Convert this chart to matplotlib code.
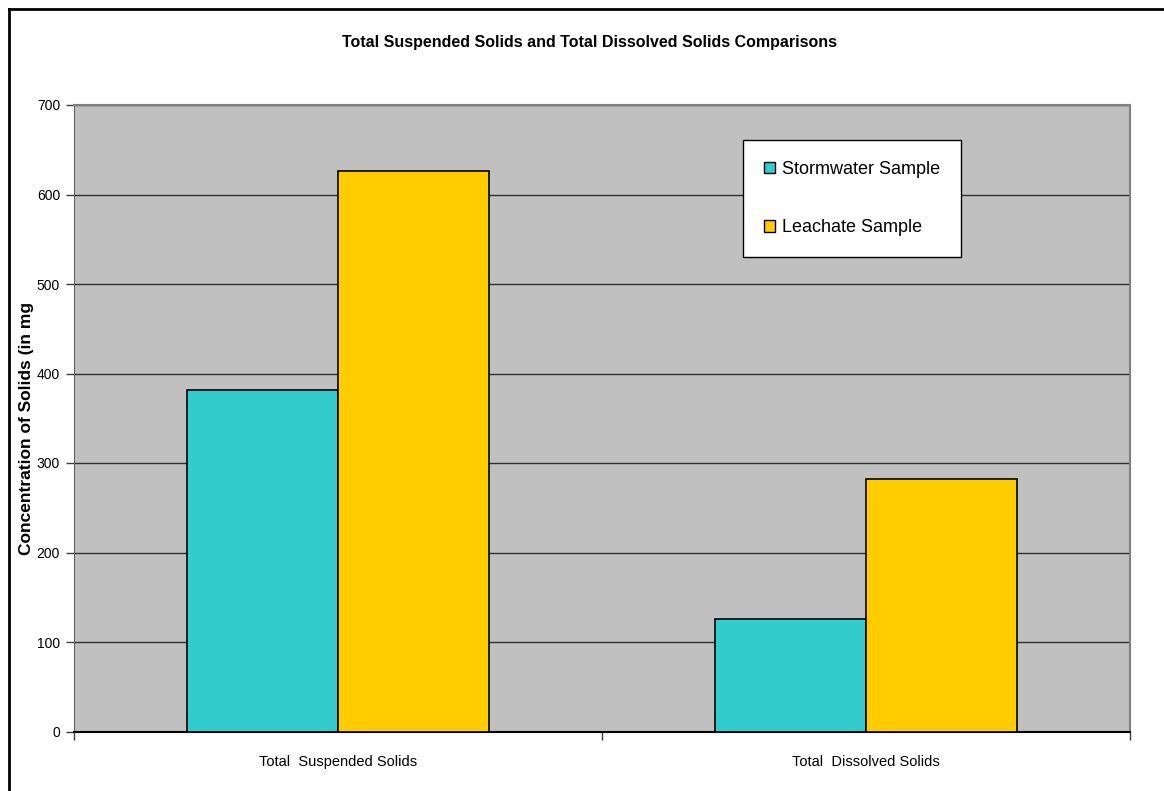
import matplotlib.pyplot as plt
from matplotlib.lines import Line2D
from matplotlib.patches import Patch

plt.rcParams['font.family'] = ['Liberation Sans', 'DejaVu Sans']

categories = ["Total  Suspended Solids", "Total  Dissolved Solids"]
series_names = ["Stormwater Sample", "Leachate Sample"]
stormwater = [382, 126]
leachate = [626, 282]
y_ticks = [0, 100, 200, 300, 400, 500, 600, 700]

colors = ["#33CCCC", "#FFCC00"]

fig = plt.figure(figsize=(11.64, 7.91), dpi=100)
ax = fig.add_axes([74 / 1164, 1 - 731.5 / 791, (1130 - 74) / 1164, (731.5 - 105) / 791])
ax.set_facecolor("#C0C0C0")

# Excel-style clustered columns, gap width 150%
w = 1 / 3.5
xs = range(len(categories))
ax.bar([x - w / 2 for x in xs], stormwater, w, color=colors[0], edgecolor="black", linewidth=1.2, zorder=3)
ax.bar([x + w / 2 for x in xs], leachate, w, color=colors[1], edgecolor="black", linewidth=1.2, zorder=3)

ax.set_xlim(-0.5, len(categories) - 0.5)
ax.set_ylim(0, 700)
ax.set_yticks(y_ticks)
ax.yaxis.grid(True, color="#303030", linewidth=1.0, zorder=1)
ax.tick_params(axis="y", direction="out", length=6, width=1, color="#404040", labelsize=10, pad=4)

# category boundaries carry the tick marks, the labels sit in between
ax.set_xticks([-0.5 + i for i in range(len(categories) + 1)])
ax.set_xticklabels([])
ax.tick_params(axis="x", which="major", direction="out", length=6, width=1, color="#404040")
ax.set_xticks(list(xs), minor=True)
ax.set_xticklabels(categories, minor=True)
ax.tick_params(axis="x", which="minor", length=0, labelsize=10.5, pad=17)

for side in ["top", "right"]:
    ax.spines[side].set_color("#808080")
    ax.spines[side].set_linewidth(1.5)
ax.spines["left"].set_color("#606060")
ax.spines["bottom"].set_color("black")
ax.spines["bottom"].set_linewidth(1.5)

fig.text(590 / 1164, 1 - 42 / 791, "Total Suspended Solids and Total Dissolved Solids Comparisons",
         ha="center", va="center", fontsize=11.5, fontweight="bold")
fig.text(27 / 1164, 1 - 428 / 791, "Concentration of Solids (in mg", rotation=90,
         ha="center", va="center", fontsize=12.5, fontweight="bold")

handles = [Patch(facecolor=c, edgecolor="black", linewidth=1) for c in colors]
leg = fig.legend(handles, series_names, loc="upper left",
                 bbox_to_anchor=(743 / 1164, 1 - 140 / 791), borderaxespad=0,
                 fontsize=13, frameon=True, fancybox=False, shadow=False,
                 handlelength=0.6, handleheight=0.6, handletextpad=0.4,
                 labelspacing=2.3, borderpad=1.15)
leg.get_frame().set_edgecolor("black")
leg.get_frame().set_linewidth(1)
leg.get_frame().set_facecolor("white")
leg.get_frame().set_alpha(1)

# outer chart border (only the left and top edges are inside the frame)
fig.add_artist(Line2D([8.5 / 1164, 8.5 / 1164], [0, 1 - 9 / 791], color="black", linewidth=2, transform=fig.transFigure))
fig.add_artist(Line2D([8.5 / 1164, 1], [1 - 9 / 791, 1 - 9 / 791], color="black", linewidth=2, transform=fig.transFigure))

fig.savefig("out.png", dpi=100)
